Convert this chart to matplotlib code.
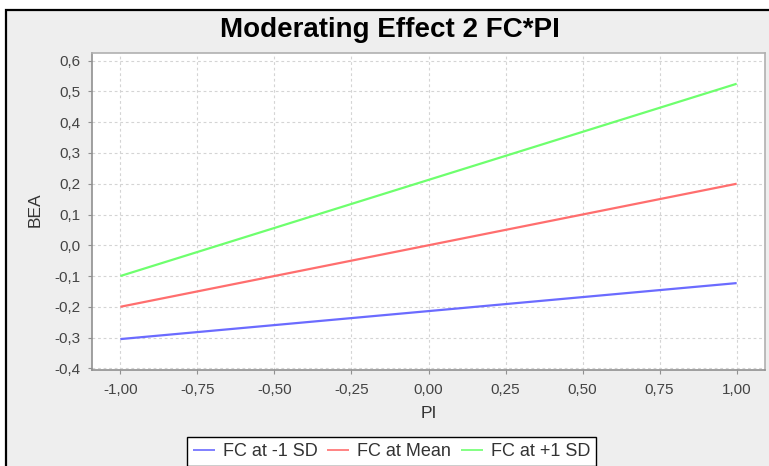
import matplotlib
matplotlib.use("Agg")
import matplotlib.pyplot as plt
from matplotlib.patches import Rectangle
from matplotlib.ticker import FuncFormatter, MultipleLocator

plt.rcParams['font.family'] = ['Liberation Sans', 'DejaVu Sans']

# data
pi_values = [-1.0, 1.0]
series_names = ["FC at -1 SD", "FC at Mean", "FC at +1 SD"]
fc_low = [-0.305, -0.123]
fc_mean = [-0.200, 0.200]
fc_high = [-0.100, 0.525]
series_colors = ["#6b6bff", "#ff6e6e", "#6eff6e"]

W, H = 769, 466
fig = plt.figure(figsize=(W / 100, H / 100), dpi=100)
fig.patch.set_facecolor("white")

# chart background with border (cut at right/bottom)
bg = Rectangle((6 / W, -0.2), 1.2, 1 - 9.5 / H + 0.2, transform=fig.transFigure,
               facecolor="#eeeeee", edgecolor="black", linewidth=1.6, zorder=-10)
fig.patches.append(bg)

left, right, top, bottom = 91.7, 765, 52.7, 370
ax = fig.add_axes([left / W, 1 - bottom / H, (right - left) / W, (bottom - top) / H])
ax.set_facecolor("white")

for ys, name, c in zip([fc_low, fc_mean, fc_high], series_names, series_colors):
    ax.plot(pi_values, ys, color=c, linewidth=1.6, label=name, solid_capstyle="butt")

ax.set_xlim(-1.093, 1.092)
ax.set_ylim(-0.4055, 0.626)
ax.xaxis.set_major_locator(MultipleLocator(0.25))
ax.yaxis.set_major_locator(MultipleLocator(0.1))
ax.xaxis.set_major_formatter(FuncFormatter(lambda v, p: f"{v:.2f}".replace(".", ",")))
ax.yaxis.set_major_formatter(FuncFormatter(lambda v, p: f"{v:.1f}".replace(".", ",")))

ax.grid(True, color="#d4d4d4", linestyle=(0, (2.5, 2.5)), linewidth=0.8)
ax.set_axisbelow(True)
for s in ax.spines.values():
    s.set_color("#b0b0b0")
    s.set_linewidth(1.2)
ax.spines["left"].set_color("#909090")
ax.spines["bottom"].set_color("#909090")
ax.tick_params(axis="both", direction="out", length=3, width=0.8, color="#909090",
               labelsize=11, labelcolor="#444444")
ax.tick_params(axis="y", pad=5)
ax.tick_params(axis="x", pad=6)

fig.text(390 / W, 1 - 37.3 / H, "Moderating Effect 2 FC*PI", ha="center", va="baseline",
         fontsize=20, fontweight="bold", color="black")
fig.text(428.4 / W, 1 - 418.3 / H, "PI", ha="center", va="baseline", fontsize=12.5, color="#333333")
fig.text(35 / W, 1 - 210 / H, "BEA", ha="center", va="center", rotation=90, fontsize=12.5,
         color="#333333")

leg = fig.legend(loc="upper center", bbox_to_anchor=(391.5 / W, 1 - 436.7 / H), ncol=3,
                 fontsize=13, frameon=True, fancybox=False, edgecolor="black",
                 facecolor="white", framealpha=1, handlelength=1.22, handletextpad=0.43,
                 columnspacing=0.54, borderpad=0.35, borderaxespad=0)
leg.get_frame().set_linewidth(1.0)
for t in leg.get_texts():
    t.set_color("#333333")
for l in leg.get_lines():
    l.set_linewidth(1.2)

fig.savefig("out.png", dpi=100)
